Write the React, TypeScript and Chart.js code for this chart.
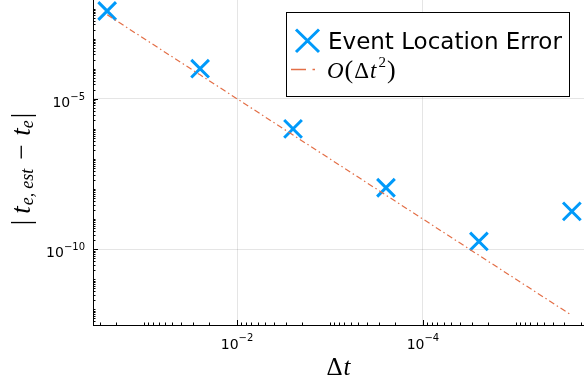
import React, { useEffect, useRef } from 'react';
import { Chart, registerables } from 'chart.js';

Chart.register(...registerables);

// ---- data ----
const dtValues = [0.25, 0.025, 0.0025, 2.5e-4, 2.5e-5, 2.5e-6];
const eventLocationError = [8.3e-3, 1.0e-4, 1.0e-6, 1.1e-8, 1.8e-10, 1.8e-9];
const orderReference = [6.25e-3, 6.25e-5, 6.25e-7, 6.25e-9, 6.25e-11, 6.25e-13];

const xMajorTicks = [1e-2, 1e-4];
const xMajorExponents = ['−2', '−4'];
const yMajorTicks = [1e-5, 1e-10];
const yMajorExponents = ['−5', '−10'];

const xLimits = [1.85e-6, 0.355];
const yLimits = [3.26e-13, 0.0193];

const BLUE = '#009AFA';
const ORANGE = '#E36F47';

type Part = { text: string; font: string; dx?: number; dy?: number };

function buildLogTicks(min: number, max: number, majors: number[]) {
  const ticks: any[] = [];
  const k0 = Math.floor(Math.log10(min));
  const k1 = Math.ceil(Math.log10(max));
  for (let k = k0; k <= k1; k++) {
    for (let m = 1; m <= 9; m++) {
      const v = m * Math.pow(10, k);
      if (v >= min && v <= max) {
        const isMaj = majors.some((t) => Math.abs(Math.log10(t) - Math.log10(v)) < 1e-9);
        ticks.push({ value: v, major: isMaj, isMajor: isMaj });
      }
    }
  }
  return ticks;
}

function measureParts(ctx: CanvasRenderingContext2D, parts: Part[]) {
  let w = 0;
  for (const p of parts) {
    ctx.font = p.font;
    w += (p.dx || 0) + ctx.measureText(p.text).width;
  }
  return w;
}

function drawParts(ctx: CanvasRenderingContext2D, parts: Part[], x: number, baseline: number) {
  let cx = x;
  ctx.textAlign = 'left';
  ctx.textBaseline = 'alphabetic';
  for (const p of parts) {
    ctx.font = p.font;
    cx += p.dx || 0;
    ctx.fillText(p.text, cx, baseline + (p.dy || 0));
    cx += ctx.measureText(p.text).width;
  }
}

const SANS = '"DejaVu Sans"';
const SERIF = '"Liberation Serif"';

const decorPlugin = {
  id: 'decor',
  afterDraw(chart: any) {
    const ctx: CanvasRenderingContext2D = chart.ctx;
    const xs = chart.scales.x;
    const ys = chart.scales.y;
    const area = chart.chartArea;
    ctx.save();
    // tick marks (inward)
    ctx.strokeStyle = '#000';
    ctx.lineWidth = 1;
    ctx.beginPath();
    for (const t of xs.ticks) {
      const px = Math.round(xs.getPixelForValue(t.value)) + 0.5;
      const len = t.isMajor ? 5 : 2.5;
      ctx.moveTo(px, area.bottom);
      ctx.lineTo(px, area.bottom - len);
    }
    for (const t of ys.ticks) {
      const py = Math.round(ys.getPixelForValue(t.value)) + 0.5;
      const len = t.isMajor ? 5 : 2.5;
      ctx.moveTo(area.left, py);
      ctx.lineTo(area.left + len, py);
    }
    ctx.stroke();

    // tick labels
    ctx.fillStyle = '#000';
    const baseFont = `14px ${SANS}`;
    const expFont = `10px ${SANS}`;
    xMajorTicks.forEach((v, i) => {
      const px = xs.getPixelForValue(v);
      const parts: Part[] = [
        { text: '10', font: baseFont },
        { text: xMajorExponents[i], font: expFont, dy: -8.5 },
      ];
      const w = measureParts(ctx, parts);
      drawParts(ctx, parts, px - w / 2, area.bottom + 24);
    });
    yMajorTicks.forEach((v, i) => {
      const py = ys.getPixelForValue(v);
      const parts: Part[] = [
        { text: '10', font: baseFont },
        { text: yMajorExponents[i], font: expFont, dy: -7 },
      ];
      const w = measureParts(ctx, parts);
      drawParts(ctx, parts, area.left - 8 - w, py + 8);
    });

    // x axis title: Δt
    const xParts: Part[] = [
      { text: 'Δ', font: `25px ${SERIF}` },
      { text: 't', font: `italic 25px ${SERIF}`, dx: 1 },
    ];
    const xw = measureParts(ctx, xParts);
    drawParts(ctx, xParts, 338.5 - xw / 2, 375);

    // y axis title: |t_{e,est} − t_e|
    const yParts: Part[] = [
      { text: '|', font: `27px ${SERIF}` },
      { text: 't', font: `italic 27px ${SERIF}`, dx: 6 },
      { text: 'e,', font: `italic 18px ${SERIF}`, dx: 1, dy: 3 },
      { text: 'est', font: `italic 18px ${SERIF}`, dx: 4, dy: 3 },
      { text: '−', font: `27px ${SERIF}`, dx: 9 },
      { text: 't', font: `italic 27px ${SERIF}`, dx: 9 },
      { text: 'e', font: `italic 18px ${SERIF}`, dy: 3 },
      { text: '|', font: `27px ${SERIF}`, dx: 2 },
    ];
    const yw = measureParts(ctx, yParts);
    ctx.save();
    ctx.translate(30, 169);
    ctx.rotate(-Math.PI / 2);
    drawParts(ctx, yParts, -yw / 2, 0);
    ctx.restore();

    // legend
    const lx = 286.5, ly = 12.5, lw = 283, lh = 84;
    ctx.fillStyle = '#fff';
    ctx.fillRect(lx, ly, lw, lh);
    ctx.strokeStyle = '#000';
    ctx.lineWidth = 1;
    ctx.strokeRect(lx, ly, lw, lh);

    // marker
    ctx.strokeStyle = BLUE;
    ctx.lineWidth = 3;
    ctx.beginPath();
    ctx.moveTo(296, 29.5);
    ctx.lineTo(319, 52);
    ctx.moveTo(319, 29.5);
    ctx.lineTo(296, 52);
    ctx.stroke();
    ctx.fillStyle = '#000';
    ctx.font = `23px ${SANS}`;
    ctx.textAlign = 'left';
    ctx.textBaseline = 'alphabetic';
    ctx.fillText(chart.data.datasets[0].label, 328, 49);

    // line sample
    ctx.strokeStyle = ORANGE;
    ctx.lineWidth = 1.5;
    ctx.beginPath();
    ctx.moveTo(291, 69.5);
    ctx.lineTo(306, 69.5);
    ctx.moveTo(312.5, 69.5);
    ctx.lineTo(315, 69.5);
    ctx.stroke();

    const lParts: Part[] = [
      { text: 'O', font: `italic 23px ${SERIF}` },
      { text: '(', font: `26px ${SERIF}`, dx: 1 },
      { text: 'Δ', font: `23px ${SERIF}`, dx: 1 },
      { text: 't', font: `italic 23px ${SERIF}`, dx: 1 },
      { text: '2', font: `15px ${SERIF}`, dx: 2, dy: -11 },
      { text: ')', font: `26px ${SERIF}`, dx: 1 },
    ];
    ctx.fillStyle = '#000';
    drawParts(ctx, lParts, 327, 78);
    ctx.restore();
  },
};

export default function App() {
  const canvasRef = useRef<HTMLCanvasElement | null>(null);

  useEffect(() => {
    const canvas = canvasRef.current;
    if (!canvas) return;
    const gridColor = (c: any) => (c.tick && c.tick.isMajor ? 'rgba(0,0,0,0.1)' : 'rgba(0,0,0,0)');
    const chart = new Chart(canvas, {
      type: 'scatter',
      data: {
        datasets: [
          {
            label: 'Event Location Error',
            data: dtValues.map((x, i) => ({ x, y: eventLocationError[i] })),
            showLine: false,
            pointStyle: 'crossRot',
            pointRadius: 12.5,
            pointHoverRadius: 12.5,
            pointBorderWidth: 3,
            borderColor: BLUE,
            backgroundColor: BLUE,
            order: 1,
          },
          {
            label: 'O(Δt²)',
            data: dtValues.map((x, i) => ({ x, y: orderReference[i] })),
            showLine: true,
            borderColor: ORANGE,
            backgroundColor: ORANGE,
            borderWidth: 1.2,
            borderDash: [6, 3, 1.5, 3],
            pointRadius: 0,
            pointHoverRadius: 0,
            order: 0,
          },
        ],
      } as any,
      options: {
        animation: false,
        responsive: false,
        events: [],
        layout: { autoPadding: false, padding: { left: 93, top: 0, right: 0, bottom: 62 } },
        plugins: {
          legend: { display: false },
          tooltip: { enabled: false },
          title: { display: false },
        },
        scales: {
          x: {
            type: 'logarithmic',
            reverse: true,
            min: xLimits[0],
            max: xLimits[1],
            afterBuildTicks: (scale: any) => {
              scale.ticks = buildLogTicks(xLimits[0], xLimits[1], xMajorTicks);
            },
            ticks: { display: false },
            grid: { drawTicks: false, color: gridColor, lineWidth: 1 },
            border: { display: true, color: '#000', width: 1 },
          },
          y: {
            type: 'logarithmic',
            min: yLimits[0],
            max: yLimits[1],
            afterBuildTicks: (scale: any) => {
              scale.ticks = buildLogTicks(yLimits[0], yLimits[1], yMajorTicks);
            },
            ticks: { display: false },
            grid: { drawTicks: false, color: gridColor, lineWidth: 1 },
            border: { display: true, color: '#000', width: 1 },
          },
        },
      } as any,
      plugins: [decorPlugin],
    });
    return () => chart.destroy();
  }, []);

  return (
    <div style={{ position: 'absolute', left: 0, top: 0, width: 584, height: 387, background: '#fff' }}>
      <canvas ref={canvasRef} width={584} height={387} style={{ display: 'block' }} />
    </div>
  );
}
